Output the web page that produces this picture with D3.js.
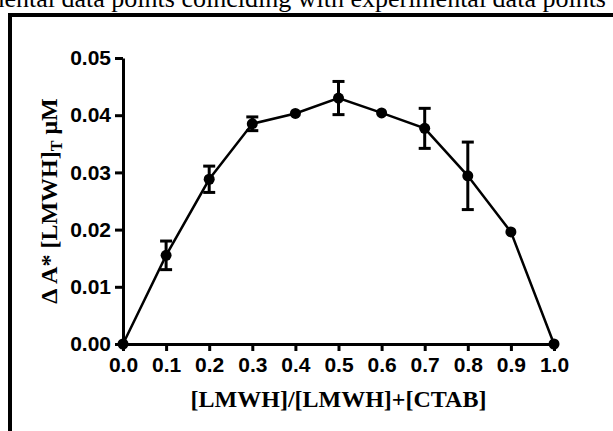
<!DOCTYPE html>
<html>
<head>
<meta charset="utf-8">
<script src="https://cdn.jsdelivr.net/npm/d3@7"></script>
<style>
  html, body { margin: 0; padding: 0; background: #fff; overflow: hidden; }
  svg { display: block; }
</style>
</head>
<body>
<script>
// ---- data ----
const ratio = [0.0, 0.1, 0.2, 0.3, 0.4, 0.5, 0.6, 0.7, 0.8, 0.9, 1.0];
const deltaA = [0.0, 0.0155, 0.0288, 0.0385, 0.0403, 0.0430, 0.0404, 0.0377, 0.0294, 0.0196, 0.0];
const errorSD = [0, 0.0025, 0.0023, 0.0012, 0, 0.0029, 0, 0.0035, 0.0059, 0, 0];
const xTicks = [0.0, 0.1, 0.2, 0.3, 0.4, 0.5, 0.6, 0.7, 0.8, 0.9, 1.0];
const yTicks = [0.00, 0.01, 0.02, 0.03, 0.04, 0.05];
const captionText = "mental data points coinciding with experimental data points";
const xLabel = "[LMWH]/[LMWH]+[CTAB]";

const W = 613, H = 431;
const svg = d3.select("body").append("svg").attr("width", W).attr("height", H);

// caption (cropped at top) and frame
svg.append("text")
  .attr("x", 606).attr("y", 7)
  .attr("text-anchor", "end")
  .attr("font-family", "Liberation Serif, Times New Roman, serif")
  .attr("font-size", 26)
  .attr("fill", "#000")
  .text(captionText);

svg.append("path")
  .attr("d", `M10,${H + 5} L10,15 L${W + 5},15`)
  .attr("fill", "none").attr("stroke", "#000").attr("stroke-width", 4);

const x = d3.scaleLinear().domain([0, 1]).range([123, 554]);
const y = d3.scaleLinear().domain([0, 0.05]).range([344, 58]);

const tickFont = "Liberation Sans, Arial, sans-serif";

// y axis
const gy = svg.append("g").attr("transform", `translate(${x(0)},0)`)
  .call(d3.axisLeft(y).tickValues(yTicks).tickFormat(d3.format(".2f"))
    .tickSize(8).tickSizeOuter(0).tickPadding(4));
// x axis
const gx = svg.append("g").attr("transform", `translate(0,${y(0)})`)
  .call(d3.axisBottom(x).tickValues(xTicks).tickFormat(d3.format(".1f"))
    .tickSize(7).tickSizeOuter(0).tickPadding(5));

[gx, gy].forEach(g => {
  g.select(".domain").attr("stroke", "#000").attr("stroke-width", 3);
  g.selectAll(".tick line").attr("stroke", "#000").attr("stroke-width", 3);
  g.selectAll(".tick text")
    .attr("fill", "#000")
    .attr("font-family", tickFont)
    .attr("font-weight", "bold")
    .attr("font-size", 21);
});
gx.selectAll(".tick text").attr("dy", "0.75em");

// axis titles
svg.append("text")
  .attr("x", (x(0) + x(1)) / 2).attr("y", 407)
  .attr("text-anchor", "middle")
  .attr("font-family", "Liberation Serif, Times New Roman, serif")
  .attr("font-weight", "bold")
  .attr("font-size", 24)
  .attr("fill", "#000")
  .text(xLabel);

const yl = svg.append("text")
  .attr("transform", `translate(57,${(y(0) + y(0.05)) / 2}) rotate(-90)`)
  .attr("text-anchor", "middle")
  .attr("font-family", "Liberation Serif, Times New Roman, serif")
  .attr("font-weight", "bold")
  .attr("font-size", 24)
  .attr("fill", "#000");
yl.append("tspan").text("\u0394 A* [LMWH]");
yl.append("tspan").attr("font-size", 16).attr("dy", 5).text("T");
yl.append("tspan").attr("dy", -5).text(" \u03bcM");

// data
const pts = ratio.map((r, i) => ({ r, v: deltaA[i], e: errorSD[i] }));

svg.append("path")
  .datum(pts)
  .attr("fill", "none").attr("stroke", "#000").attr("stroke-width", 2.5)
  .attr("d", d3.line().x(d => x(d.r)).y(d => y(d.v)));

const eb = svg.append("g").selectAll("g").data(pts.filter(d => d.e > 0)).join("g");
eb.append("line")
  .attr("x1", d => x(d.r)).attr("x2", d => x(d.r))
  .attr("y1", d => y(d.v - d.e)).attr("y2", d => y(d.v + d.e))
  .attr("stroke", "#000").attr("stroke-width", 3);
eb.append("line")
  .attr("x1", d => x(d.r) - 6).attr("x2", d => x(d.r) + 6)
  .attr("y1", d => y(d.v + d.e)).attr("y2", d => y(d.v + d.e))
  .attr("stroke", "#000").attr("stroke-width", 3);
eb.append("line")
  .attr("x1", d => x(d.r) - 6).attr("x2", d => x(d.r) + 6)
  .attr("y1", d => y(d.v - d.e)).attr("y2", d => y(d.v - d.e))
  .attr("stroke", "#000").attr("stroke-width", 3);

svg.append("g").selectAll("circle").data(pts).join("circle")
  .attr("cx", d => x(d.r)).attr("cy", d => y(d.v)).attr("r", 5.5)
  .attr("fill", "#000");
</script>
</body>
</html>
